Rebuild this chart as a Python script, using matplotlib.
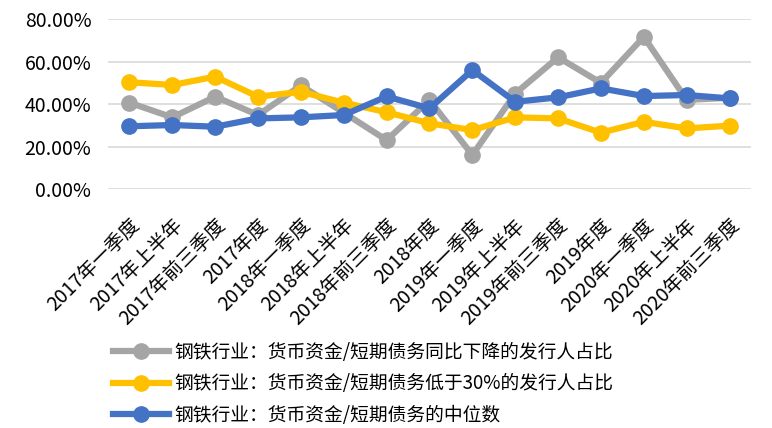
import matplotlib
matplotlib.use("Agg")
import matplotlib.pyplot as plt
import matplotlib.transforms as mtransforms
from matplotlib.ticker import FuncFormatter

plt.rcParams['font.family'] = ['Noto Sans CJK SC', 'DejaVu Sans']

categories = ["2017年一季度", "2017年上半年", "2017年前三季度", "2017年度",
              "2018年一季度", "2018年上半年", "2018年前三季度", "2018年度",
              "2019年一季度", "2019年上半年", "2019年前三季度", "2019年度",
              "2020年一季度", "2020年上半年", "2020年前三季度"]

gray_vals = [40.7, 33.8, 43.5, 34.9, 48.8, 36.0, 23.1, 41.9, 16.1, 45.0, 62.0, 50.0, 71.6, 42.0, 43.0]
yellow_vals = [50.3, 49.0, 52.9, 43.5, 45.8, 40.7, 36.2, 31.0, 27.8, 33.8, 33.3, 26.6, 31.7, 28.6, 29.9]
blue_vals = [29.6, 30.2, 29.4, 33.3, 33.8, 34.9, 43.6, 38.0, 56.0, 41.1, 43.2, 47.4, 43.8, 44.3, 42.7]

series_names = ["钢铁行业：货币资金/短期债务同比下降的发行人占比",
                "钢铁行业：货币资金/短期债务低于30%的发行人占比",
                "钢铁行业：货币资金/短期债务的中位数"]
colors = ["#A5A5A5", "#FFC000", "#4472C4"]

fig = plt.figure(figsize=(7.72, 4.28), dpi=100)
ax = fig.add_axes([108/772, 1-189.3/428, (751-108)/772, (189.3-19)/428])

x = list(range(len(categories)))
for vals, name, c in zip([gray_vals, yellow_vals, blue_vals], series_names, colors):
    ax.plot(x, vals, color=c, linewidth=4.5, marker='o', markersize=11,
            solid_joinstyle='round', label=name)

ax.set_xlim(-0.5, len(categories) - 0.5)
ax.set_ylim(0, 80)
ax.set_yticks([0, 20, 40, 60, 80])
ax.yaxis.set_major_formatter(FuncFormatter(lambda v, p: f"{v:.2f}%"))
ax.grid(axis='y', color='#D9D9D9', linewidth=1.2)
ax.set_axisbelow(True)
for s in ax.spines.values():
    s.set_visible(False)
ax.tick_params(axis='both', length=0)
ax.tick_params(axis='y', labelsize=14, pad=12)
ax.tick_params(axis='x', pad=0)

ax.set_xticks(x)
ax.set_xticklabels(categories, rotation=45, rotation_mode='anchor',
                   ha='right', va='center', fontsize=14)
offset = mtransforms.ScaledTranslation(7/100, -33/100, fig.dpi_scale_trans)
for lbl in ax.get_xticklabels():
    lbl.set_transform(lbl.get_transform() + offset)

fig.legend(loc='upper left', bbox_to_anchor=(113/772, 1-342/428), frameon=False,
           fontsize=13.5, handlelength=3.0, handletextpad=0.3, labelspacing=0.55,
           borderpad=0, borderaxespad=0)

fig.savefig("out.png", dpi=100)
